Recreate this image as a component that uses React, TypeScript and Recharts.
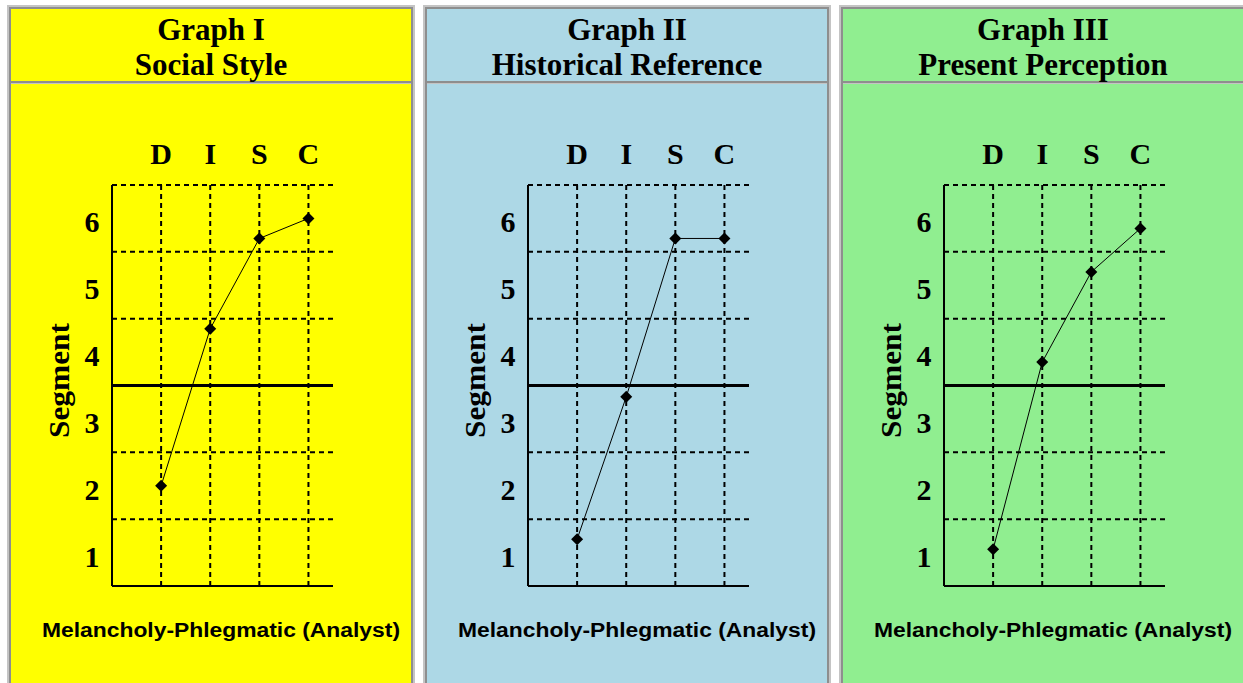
import React from "react";
import { LineChart, Line, XAxis, YAxis, ReferenceLine, Label } from "recharts";

// DISC profile, one line per graph
const traits = ["D", "I", "S", "C"];
const traitPos = [1, 2, 3, 4];
const socialStyle = [2.0, 4.35, 5.7, 6.0];
const historicalReference = [1.2, 3.33, 5.7, 5.7];
const presentPerception = [1.05, 3.85, 5.2, 5.85];

const segmentTicks = [1, 2, 3, 4, 5, 6];
const segmentBounds = [1.5, 2.5, 4.5, 5.5, 6.5];
const midline = 3.5;
const styleLabel = "Melancholy-Phlegmatic (Analyst)";

const panels = [
  { title: "Graph I", subtitle: "Social Style", bg: "#ffff00", values: socialStyle },
  { title: "Graph II", subtitle: "Historical Reference", bg: "#add8e6", values: historicalReference },
  { title: "Graph III", subtitle: "Present Perception", bg: "#90ee90", values: presentPerception },
];

const SERIF = "'Liberation Serif', 'Times New Roman', serif";
const SANS = "'Liberation Sans', Arial, sans-serif";

function Diamond({ cx, cy }: any) {
  if (cx == null || cy == null) return null;
  const r = 6;
  return (
    <polygon
      points={`${cx},${cy - r} ${cx + r},${cy} ${cx},${cy + r} ${cx - r},${cy}`}
      fill="#000"
    />
  );
}

function TraitTick({ x, y, payload }: any) {
  return (
    <text x={x} y={y - 21} textAnchor="middle" fontFamily={SERIF} fontWeight="bold" fontSize={30} fill="#000">
      {traits[payload.value - 1]}
    </text>
  );
}

function SegmentTick({ x, y, payload }: any) {
  return (
    <text x={x - 20} y={y + 14} textAnchor="middle" fontFamily={SERIF} fontWeight="bold" fontSize={30} fill="#000">
      {payload.value}
    </text>
  );
}

function SegmentLabel(props: any) {
  const vb = props.viewBox || { x: 0, y: 101, width: 101, height: 401 };
  const cx = vb.x + vb.width - 43;
  const cy = vb.y + vb.height / 2 - 5;
  return (
    <text
      x={cx}
      y={cy}
      transform={`rotate(-90, ${cx}, ${cy})`}
      textAnchor="middle"
      fontFamily={SERIF}
      fontWeight="bold"
      fontSize={29}
      textLength={115}
      lengthAdjust="spacingAndGlyphs"
      fill="#000"
    >
      Segment
    </text>
  );
}

function DiscChart({ values }: { values: number[] }) {
  const data = traitPos.map((p, i) => ({ pos: p, trait: traits[i], value: values[i] }));
  return (
    <LineChart width={400} height={600} data={data} margin={{ top: 0, left: 0, right: 78, bottom: 98 }}>
      <XAxis
        dataKey="pos"
        type="number"
        orientation="top"
        domain={[0, 4.5]}
        ticks={traitPos}
        height={101}
        axisLine={false}
        tickLine={false}
        tickSize={0}
        tickMargin={0}
        tick={<TraitTick />}
        interval={0}
      />
      <YAxis
        type="number"
        domain={[0.5, 6.5]}
        ticks={segmentTicks}
        width={101}
        axisLine={{ stroke: "#000", strokeWidth: 2 }}
        tickLine={false}
        tickSize={0}
        tickMargin={0}
        tick={<SegmentTick />}
        interval={0}
      >
        <Label content={SegmentLabel} />
      </YAxis>
      {segmentBounds.map((v) => (
        <ReferenceLine key={"h" + v} y={v} stroke="#000" strokeWidth={2} strokeDasharray="5 4" />
      ))}
      {traitPos.map((v) => (
        <ReferenceLine key={"v" + v} x={v} stroke="#000" strokeWidth={2} strokeDasharray="5 4" />
      ))}
      <ReferenceLine y={midline} stroke="#000" strokeWidth={3} />
      <ReferenceLine y={0.5} stroke="#000" strokeWidth={2} />
      <Line
        type="linear"
        dataKey="value"
        stroke="#000"
        strokeWidth={1}
        dot={(p: any) => <Diamond key={p.index} {...p} />}
        activeDot={false}
        isAnimationActive={false}
      />
    </LineChart>
  );
}

function Panel({ left, panel }: { left: number; panel: (typeof panels)[number] }) {
  return (
    <div
      style={{
        position: "absolute",
        left,
        top: 5,
        width: 408,
        height: 800,
        boxSizing: "border-box",
        border: "2px solid #c4c4c4",
      }}
    >
      <div style={{ border: "2px solid #8e8e8e", height: "100%", boxSizing: "border-box", background: panel.bg }}>
        <div
          style={{
            height: 74,
            borderBottom: "2px solid #8e8e8e",
            textAlign: "center",
            fontFamily: SERIF,
            fontWeight: "bold",
            fontSize: 31,
            lineHeight: "35px",
            boxSizing: "border-box",
            paddingTop: 3,
          }}
        >
          {panel.title}
          <br />
          {panel.subtitle}
        </div>
        <div style={{ borderTop: "1px solid #c4c4c4", position: "relative", height: 620 }}>
          <DiscChart values={panel.values} />
          <svg width={400} height={600} style={{ position: "absolute", left: 0, top: 0, pointerEvents: "none" }}>
            <text
              x={31}
              y={553}
              fontFamily={SANS}
              fontWeight="bold"
              fontSize={20}
              textLength={358}
              lengthAdjust="spacingAndGlyphs"
              fill="#000"
            >
              {styleLabel}
            </text>
          </svg>
        </div>
      </div>
    </div>
  );
}

export default function App() {
  return (
    <div
      style={{
        position: "absolute",
        left: 0,
        top: 0,
        width: 1243,
        height: 683,
        overflow: "hidden",
        background: "#fff",
      }}
    >
      {panels.map((p, i) => (
        <Panel key={p.title} left={7 + i * 416} panel={p} />
      ))}
    </div>
  );
}
